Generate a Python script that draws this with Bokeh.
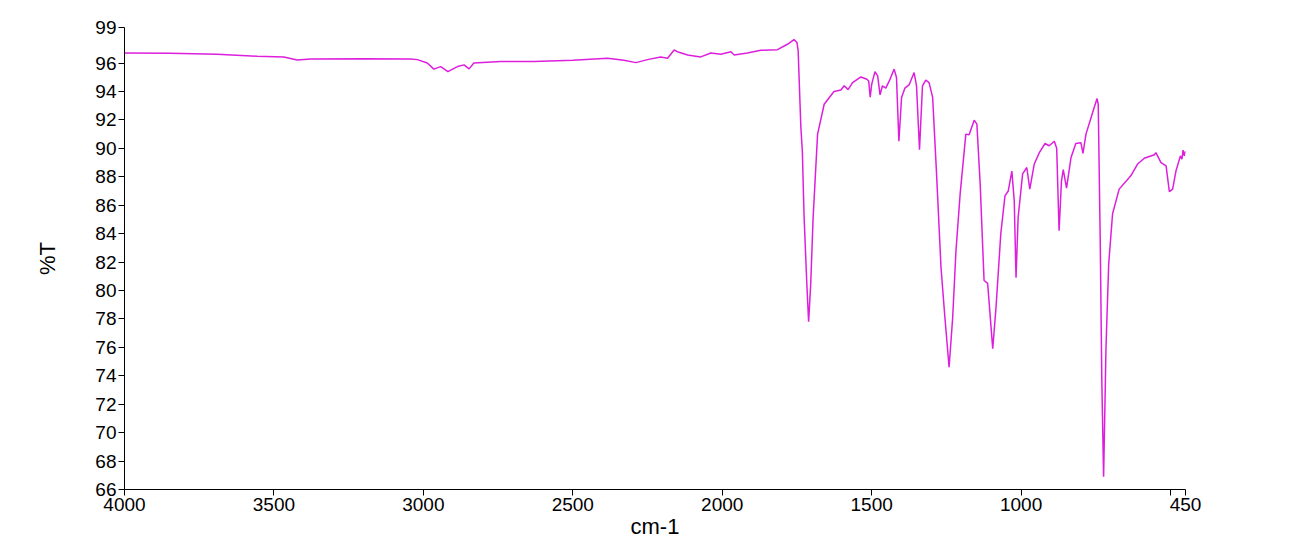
from bokeh.plotting import figure
from bokeh.models import Range1d, FixedTicker
from bokeh.embed import file_html
from bokeh.resources import INLINE

# IR spectrum: wavenumber (cm-1) and transmittance (%T)
wavenumber = [4000, 3850, 3690, 3556, 3467, 3422, 3377, 3200, 3043, 3020, 2987, 2965, 2942, 2918,
              2886, 2864, 2847, 2831, 2741, 2630, 2500, 2384, 2329, 2289, 2250, 2206, 2183, 2161,
              2150, 2116, 2072, 2038, 2005, 1971, 1960, 1916, 1871, 1815, 1782, 1760, 1750, 1746,
              1737, 1732, 1728, 1726, 1717, 1711, 1704, 1696, 1687, 1681, 1659, 1626, 1603, 1592,
              1579, 1564, 1536, 1516, 1510, 1505, 1500, 1489, 1480, 1472, 1464, 1453, 1441, 1425,
              1417, 1409, 1400, 1389, 1375, 1358, 1350, 1340, 1330, 1319, 1308, 1296, 1284, 1268,
              1255, 1241, 1229, 1218, 1204, 1185, 1174, 1157, 1148, 1137, 1124, 1112, 1095, 1084,
              1068, 1054, 1043, 1031, 1023, 1017, 1010, 995, 981, 971, 956, 939, 920, 906, 889,
              881, 873, 865, 859, 848, 833, 817, 800, 793, 783, 761, 746, 742, 735, 730, 724, 716,
              707, 694, 672, 638, 632, 610, 588, 554, 549, 532, 515, 504, 493, 482, 467, 462, 458,
              454, 450]
transmittance = [96.7, 96.68, 96.62, 96.48, 96.43, 96.22, 96.29, 96.3, 96.29, 96.24, 96.0, 95.57, 95.75, 95.4,
                 95.75, 95.87, 95.59, 96.0, 96.1, 96.1, 96.2, 96.34, 96.2, 96.03, 96.24, 96.43, 96.34, 96.92,
                 96.8, 96.57, 96.43, 96.71, 96.62, 96.8, 96.57, 96.71, 96.9, 96.94, 97.32, 97.65, 97.45, 96.85,
                 91.5, 89.8, 86.6, 85.1, 80.45, 77.8, 80.45, 85.1, 88.65, 91.0, 93.1, 94.0, 94.1, 94.4,
                 94.13, 94.62, 95.02, 94.86, 94.74, 93.6, 94.5, 95.4, 95.1, 93.76, 94.4, 94.23, 94.74, 95.57,
                 94.98, 90.5, 93.58, 94.23, 94.46, 95.33, 94.4, 89.9, 94.4, 94.8, 94.62, 93.58, 88.65, 81.6,
                 78.1, 74.6, 78.1, 82.8, 86.8, 91.0, 90.95, 91.98, 91.7, 87.5, 80.7, 80.5, 75.9, 78.8,
                 84.0, 86.66, 87.0, 88.4, 86.3, 80.9, 85.14, 88.2, 88.65, 87.13, 88.9, 89.7, 90.34, 90.18, 90.5,
                 90.0, 84.2, 87.7, 88.5, 87.2, 89.36, 90.34, 90.4, 89.64, 91.0, 92.5, 93.5, 93.1, 83.0, 73.66, 66.9, 76.0,
                 81.86, 85.4, 87.13, 87.95, 88.1, 88.9, 89.3, 89.55, 89.7, 89.0, 88.77, 86.95, 87.13, 88.4, 89.47, 89.24, 89.87,
                 89.47, 89.8]

x_ticks = [4000, 3500, 3000, 2500, 2000, 1500, 1000, 500, 450]
x_tick_labels = {4000: "4000", 3500: "3500", 3000: "3000", 2500: "2500", 2000: "2000",
                 1500: "1500", 1000: "1000", 500: "", 450: "450"}
y_ticks = [66, 68, 70, 72, 74, 76, 78, 80, 82, 84, 86, 88, 90, 92, 94, 96, 98.5]
y_tick_labels = {98.5: "99"}

FONT = "Liberation Sans"

p = figure(width=1300, height=545, output_backend="svg", toolbar_location=None,
           x_range=Range1d(4000, 450), y_range=Range1d(66, 98.5),
           min_border_left=124, min_border_right=115, min_border_top=27, min_border_bottom=56)
p.outline_line_color = None
p.xgrid.visible = False
p.ygrid.visible = False

p.line(wavenumber, transmittance, line_color="#DD1FDD", line_width=1.5)

for ax in (p.xaxis[0], p.yaxis[0]):
    ax.major_label_text_font = FONT
    ax.major_label_text_font_size = "19px"
    ax.major_label_text_color = "black"
    ax.axis_label_text_font = FONT
    ax.axis_label_text_font_size = "22px"
    ax.axis_label_text_font_style = "normal"
    ax.axis_label_text_color = "black"
    ax.axis_line_color = "black"
    ax.major_tick_line_color = "black"
    ax.major_tick_out = 6
    ax.major_tick_in = 0
    ax.minor_tick_line_color = None

p.xaxis[0].ticker = FixedTicker(ticks=x_ticks)
p.xaxis[0].major_label_overrides = x_tick_labels
p.xaxis[0].axis_label = "cm-1"
p.xaxis[0].major_label_standoff = 2
p.xaxis[0].axis_label_standoff = 0

p.yaxis[0].ticker = FixedTicker(ticks=y_ticks)
p.yaxis[0].major_label_overrides = y_tick_labels
p.yaxis[0].axis_label = "%T"
p.yaxis[0].major_label_standoff = 2
p.yaxis[0].axis_label_standoff = 32

open("out.html", "w").write(file_html(p, INLINE))
